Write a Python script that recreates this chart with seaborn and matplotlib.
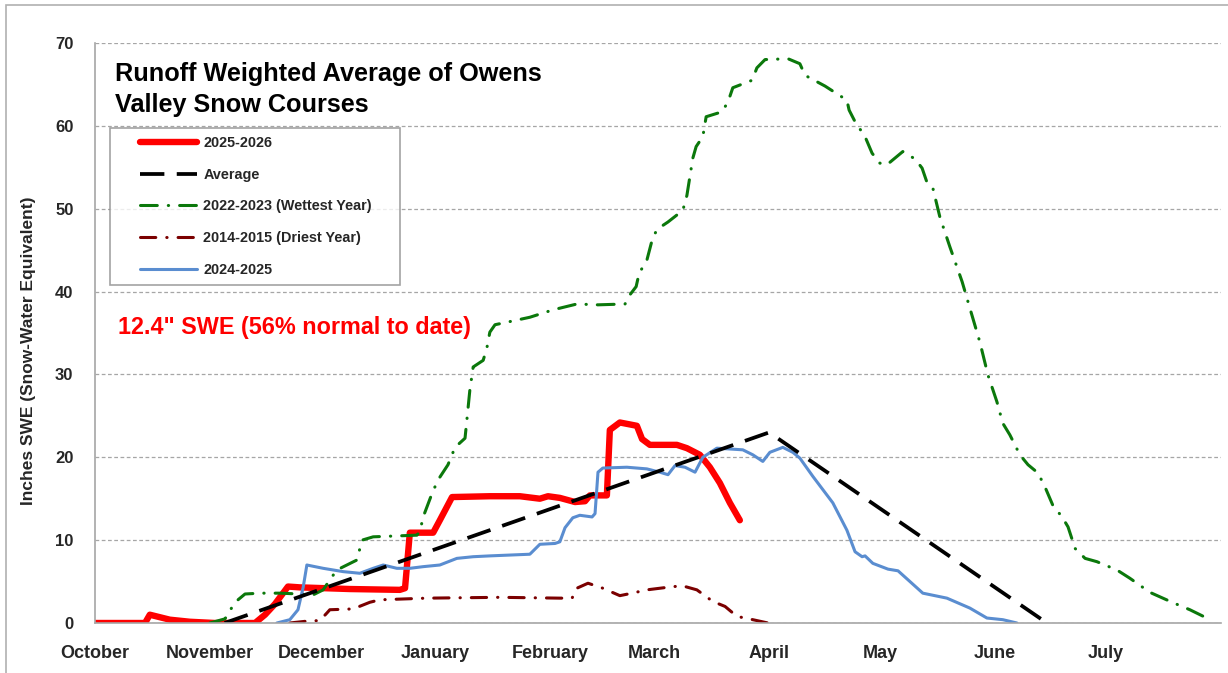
import matplotlib
matplotlib.use("Agg")
import matplotlib.pyplot as plt
from matplotlib.lines import Line2D
from matplotlib.patches import Rectangle
from matplotlib.legend_handler import HandlerLine2D
import seaborn as sns
import pandas as pd
import numpy as np

# ---------------- data (day = days since Oct 1, value = inches SWE) ----------------
month_labels = ["October", "November", "December", "January", "February",
                "March", "April", "May", "June", "July", ""]
month_days = [0, 31, 61, 92, 123, 151, 182, 212, 243, 273, 304]

cur_day = [0, 13.5, 14.8, 17.5, 20.2, 25.6, 32.4, 43.2, 45.9, 48.6, 52.1, 55.3, 68.8, 82.3,
           83.7, 85.0, 91.3, 93.1, 96.4, 106.6, 114.7, 120.1, 122.3, 125.5, 129.6, 132.3,
           133.6, 138.2, 139.0, 141.7, 146.3, 147.7, 149.8, 157.1, 159.8, 163.3, 166.0,
           168.7, 171.4, 174.1]
cur_val = [0, 0, 1.0, 0.7, 0.4, 0.15, 0, 0, 1.0, 2.3, 4.4, 4.3, 4.1, 4.0,
           4.2, 10.9, 10.9, 12.4, 15.2, 15.3, 15.3, 15.0, 15.3, 15.1, 14.6, 14.7,
           15.4, 15.4, 23.3, 24.2, 23.8, 22.2, 21.5, 21.5, 21.1, 20.3, 18.8,
           16.9, 14.5, 12.4]

avg_day = [35, 182, 257]
avg_val = [0, 23.0, 0]

wet_day = [31.0, 35.1, 37.8, 40.5, 44.5, 49.9, 55.3, 58.9, 61.6, 63.4, 65.3, 70.7, 72.1,
           75.1, 86.9, 87.7, 88.6, 91.3, 93.1, 95.3, 97.2, 99.9, 100.4, 101.2, 102.1,
           104.8, 105.8, 106.6, 108.0, 111.2, 117.4, 123.7, 130.1, 135.8, 143.1, 144.4,
           146.1, 146.9, 149.0, 150.4, 151.7, 154.7, 158.7, 159.8, 161.4, 162.3, 164.1,
           165.0, 169.3, 170.9, 172.2, 177.4, 178.7, 180.9, 187.1, 190.3, 191.7, 197.1,
           203.0, 203.6, 205.2, 207.9, 209.8, 211.9, 213.8, 218.1, 221.4, 223.3, 224.6,
           226.2, 228.1, 230.8, 234.1, 236.2, 238.9, 241.1, 243.5, 245.1, 247.0, 249.7,
           251.9, 254.6, 256.5, 258.6, 261.1, 262.7, 264.6, 267.3, 270.5, 275.9, 279.4,
           284.8, 290.8, 295.6, 299.7]
wet_val = [0, 0.5, 2.5, 3.5, 3.6, 3.6, 3.5, 3.4, 4.0, 5.2, 6.4, 7.6, 10.0,
           10.4, 10.6, 11.0, 12.8, 16.0, 17.6, 19.1, 21.2, 22.3, 24.5, 28.1, 30.9,
           31.7, 33.2, 35.1, 36.0, 36.3, 36.9, 37.8, 38.5, 38.4, 38.5, 39.6,
           40.6, 42.2, 43.8, 46.2, 47.5, 48.4, 49.8, 51.6, 56.1, 57.5, 58.7,
           61.1, 61.7, 62.9, 64.6, 65.5, 67.0, 68.0, 68.1, 67.5, 66.1, 64.8,
           63.1, 61.9, 60.5, 58.7, 56.7, 55.5, 55.3, 56.9, 56.0, 54.9, 53.2,
           52.5, 49.0, 45.4, 41.2, 38.0, 33.9, 29.9, 26.7, 24.1, 22.7, 20.3,
           19.1, 18.1, 16.4, 14.2, 12.8, 11.6, 9.0, 7.8, 7.4, 6.4, 5.4,
           3.7, 2.5, 1.6, 0.7]

dry_day = [52.6, 56.7, 60.7, 62.6, 63.4, 69.7, 74.2, 76.9, 89.6, 109.3, 125.5, 128.8,
           130.1, 133.1, 137.1, 141.7, 145.0, 149.0, 154.4, 158.5, 162.5, 166.8, 170.1,
           173.3, 177.6, 181.7]
dry_val = [0, 0.2, 0.3, 1.2, 1.6, 1.7, 2.5, 2.8, 3.0, 3.1, 3.0, 3.0,
           4.2, 4.8, 4.2, 3.3, 3.6, 4.0, 4.3, 4.5, 4.0, 2.6, 2.0,
           0.8, 0.4, 0]

prev_day = [49.1, 52.6, 54.8, 56.2, 57.2, 61.6, 67.0, 71.5, 75.1, 77.8, 81.5, 85.0, 88.6,
            93.1, 97.7, 102.1, 106.6, 117.4, 120.1, 124.2, 125.5, 126.9, 129.0, 130.9,
            134.2, 135.0, 135.8, 137.1, 143.6, 149.0, 152.5, 154.7, 156.6, 159.3, 162.0,
            164.1, 167.9, 174.9, 177.6, 180.3, 182.2, 185.7, 188.4, 190.3, 193.8, 199.2,
            203.0, 205.2, 207.1, 207.9, 210.0, 214.1, 216.8, 223.5, 230.0, 236.2, 240.8,
            245.1, 248.9]
prev_val = [0, 0.4, 1.6, 4.3, 7.0, 6.6, 6.2, 6.0, 6.6, 7.0, 6.6, 6.6, 6.8,
            7.0, 7.8, 8.0, 8.1, 8.3, 9.5, 9.6, 9.8, 11.5, 12.7, 13.0,
            12.8, 13.2, 18.2, 18.7, 18.8, 18.6, 18.2, 17.9, 19.0, 18.8, 18.2,
            20.0, 21.1, 20.9, 20.3, 19.5, 20.6, 21.2, 20.6, 19.9, 17.7, 14.5,
            11.2, 8.6, 8.0, 8.1, 7.2, 6.5, 6.3, 3.6, 3.0, 1.8, 0.6,
            0.4, 0]

labels = ["2025-2026", "Average", "2022-2023 (Wettest Year)",
          "2014-2015 (Driest Year)", "2024-2025"]
title_text = "Runoff Weighted Average of Owens\nValley Snow Courses"
note_text = '12.4" SWE (56% normal to date)'
ylabel_text = "Inches SWE (Snow-Water Equivalent)"

# ---------------- styling ----------------
sns.set_theme(style="white")
plt.rcParams["font.family"] = ["Liberation Sans", "DejaVu Sans"]
plt.rcParams["font.weight"] = "bold"

RED = "#ff0000"
BLACK = "#000000"
GREEN = "#0b780b"
BROWN = "#7b0000"
BLUE = "#5a8dd0"
GRID = "#a6a6a6"

fig = plt.figure(figsize=(12.28, 6.73), dpi=100)
ax = fig.add_axes([95 / 1228, 50 / 673, 1126 / 1228, 580 / 673])

styles = {
    labels[0]: dict(color=RED, lw=4.6, ls="-", solid_capstyle="round"),
    labels[1]: dict(color=BLACK, lw=2.7, ls=(0, (6.5, 3.3))),
    labels[2]: dict(color=GREEN, lw=2.2, ls=(0, (5.5, 3.6, 0.1, 3.6)), dash_capstyle="round"),
    labels[3]: dict(color=BROWN, lw=2.2, ls=(0, (5.0, 3.6, 0.1, 3.6)), dash_capstyle="round"),
    labels[4]: dict(color=BLUE, lw=2.2, ls="-"),
}

series = [
    (labels[0], cur_day, cur_val),
    (labels[3], dry_day, dry_val),
    (labels[2], wet_day, wet_val),
    (labels[4], prev_day, prev_val),
    (labels[1], avg_day, avg_val),
]

for name, d, v in series:
    df = pd.DataFrame({"day": d, "swe": v})
    st = styles[name]
    sns.lineplot(data=df, x="day", y="swe", ax=ax, estimator=None, sort=False,
                 color=st["color"], linewidth=st["lw"], legend=False)
    line = ax.lines[-1]
    line.set_linestyle(st["ls"])
    if "dash_capstyle" in st:
        line.set_dash_capstyle(st["dash_capstyle"])
    if "solid_capstyle" in st:
        line.set_solid_capstyle(st["solid_capstyle"])

ax.set_xlim(0, 304)
ax.set_ylim(0, 70)
ax.set_xticks(month_days)
ax.set_xticklabels(month_labels, fontsize=13, fontweight="bold")
ax.set_yticks(range(0, 71, 10))
ax.set_yticklabels([str(t) for t in range(0, 71, 10)], fontsize=12, fontweight="bold")
ax.tick_params(axis="x", direction="out", length=5.5, width=1, color=GRID, pad=10)
ax.tick_params(axis="y", direction="out", length=5.5, width=1, color=GRID, pad=10)
ax.set_xlabel("")
ax.set_ylabel(ylabel_text, fontsize=12.5, fontweight="bold")
ax.yaxis.set_label_coords(-0.052, 0.47)

for s in ["top", "right"]:
    ax.spines[s].set_visible(False)
for s in ["left", "bottom"]:
    ax.spines[s].set_color(GRID)
    ax.spines[s].set_linewidth(1.2)

ax.grid(axis="y", color=GRID, linestyle=(0, (3, 2)), linewidth=0.9)
ax.grid(axis="x", visible=False)
ax.set_axisbelow(True)

ax.text(0.0178, 0.968, title_text, transform=ax.transAxes, ha="left", va="top",
        fontsize=18.2, fontweight="bold", linespacing=1.4, color="black")
ax.text(0.0205, 0.509, note_text, transform=ax.transAxes, ha="left", va="center",
        fontsize=16.8, fontweight="bold", color=RED)


class LeadLineHandler(HandlerLine2D):
    def __init__(self, lead=0.3, **kw):
        super().__init__(**kw)
        self.lead = lead

    def create_artists(self, legend, orig_handle, xdescent, ydescent, width, height,
                       fontsize, trans):
        arts = super().create_artists(legend, orig_handle, xdescent, ydescent, width,
                                      height, fontsize, trans)
        for a in arts:
            if a.get_linestyle() in ("None", "", " "):
                continue
            xd = np.asarray(a.get_xdata(), dtype=float)
            if len(xd) >= 2:
                start = xd[0] + self.lead * (xd[-1] - xd[0])
                a.set_xdata(np.linspace(start, xd[-1], len(xd)))
        return arts


handles = []
for name in labels:
    st = styles[name]
    h = Line2D([0], [0], color=st["color"], lw=st["lw"], ls=st["ls"])
    if "dash_capstyle" in st:
        h.set_dash_capstyle(st["dash_capstyle"])
    handles.append(h)

leg = ax.legend(handles, labels, loc="upper left", mode="expand",
                bbox_to_anchor=(0.0133, 0.583, 0.2576, 0.27), borderaxespad=0,
                prop={"weight": "bold", "size": 10.4},
                frameon=True, fancybox=False, edgecolor="#8c8c8c",
                handlelength=5.5, handletextpad=0.4, labelspacing=1.22,
                borderpad=0.55,
                handler_map={Line2D: LeadLineHandler(lead=0.28)})
leg.get_frame().set_linewidth(1.2)
leg.set_zorder(5)

fig.patches.append(Rectangle((6 / 1228, -0.2), 1.3, 1.2 - 5 / 673,
                             transform=fig.transFigure, fill=False,
                             edgecolor="#b0b0b0", linewidth=1.2))

fig.savefig("out.png", dpi=100)
